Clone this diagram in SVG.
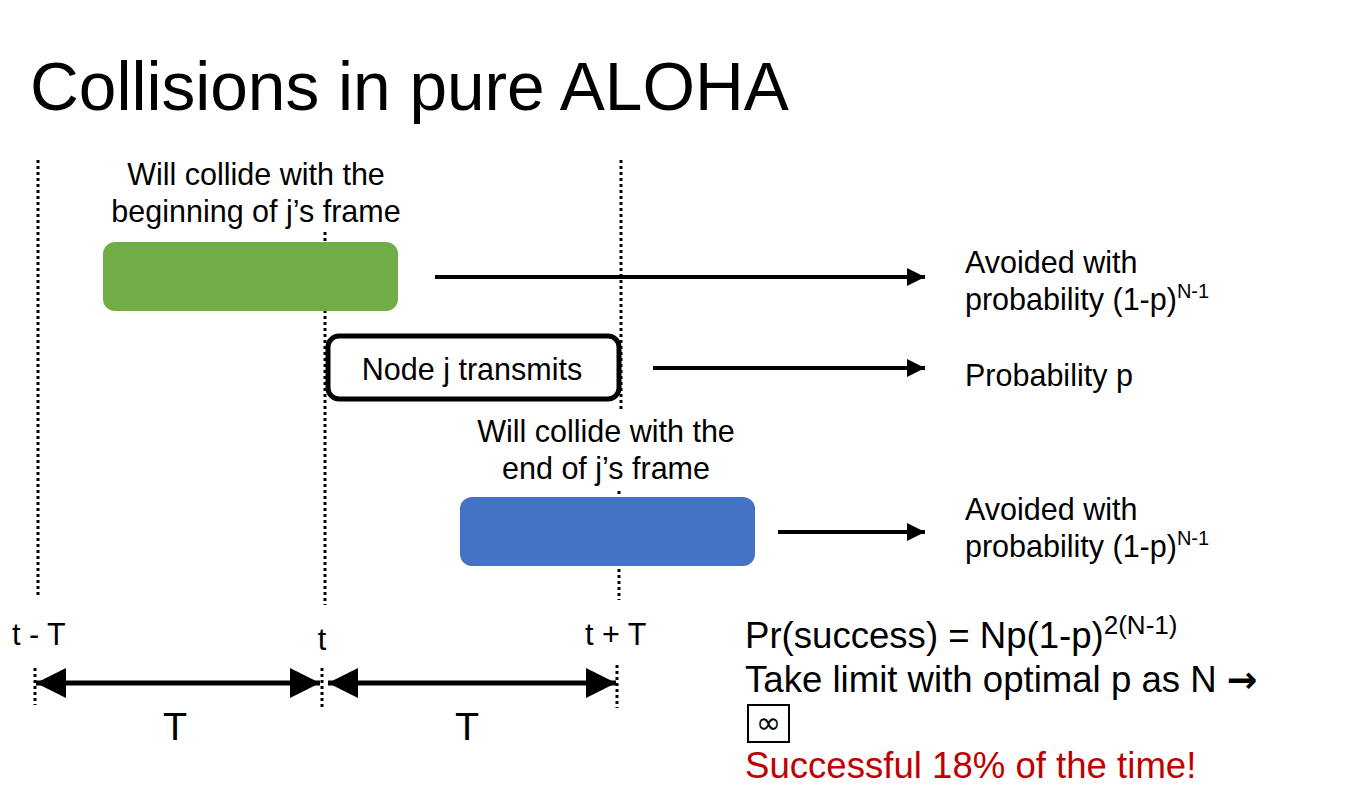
<svg xmlns="http://www.w3.org/2000/svg" width="1356" height="793" viewBox="0 0 1356 793">
  <style>
    text { font-family: "Liberation Sans", Arial, sans-serif; fill: #000; }
    .lbl { font-size: 30.5px; }
    .big { font-size: 39.5px; }
    .res { font-size: 36.6px; }
    .sup { font-size: 20px; }
    .sup2 { font-size: 26px; }
    .sym { font-family: "DejaVu Sans", sans-serif; }
    .dot { stroke: #000; stroke-width: 3; stroke-dasharray: 3 3; fill: none; }
    .arr { stroke: #000; stroke-width: 4; fill: none; }
    .dim { stroke: #000; stroke-width: 5; fill: none; }
  </style>
  <defs>
    <marker id="head" viewBox="0 0 10 10" refX="10" refY="5" markerUnits="userSpaceOnUse" markerWidth="20" markerHeight="18" orient="auto">
      <path d="M0,0 L10,5 L0,10 Z" fill="#000"/>
    </marker>
    <marker id="bighead" viewBox="0 0 10 10" refX="10" refY="5" markerUnits="userSpaceOnUse" markerWidth="30" markerHeight="34" orient="auto-start-reverse">
      <path d="M0,0 L10,5 L0,10 Z" fill="#000"/>
    </marker>
  </defs>

  <rect width="1356" height="793" fill="#fff"/>

  <text x="30" y="110" font-size="67.6">Collisions in pure ALOHA</text>

  <!-- time markers -->
  <g id="markers">
    <line class="dot" x1="38" y1="160" x2="38" y2="598"/>
    <line class="dot" x1="325" y1="232" x2="325" y2="605"/>
    <line class="dot" x1="621" y1="160" x2="621" y2="410"/>
    <line class="dot" x1="619" y1="491" x2="619" y2="600"/>
    <line class="dot" x1="35" y1="668" x2="35" y2="705"/>
    <line class="dot" x1="322" y1="668" x2="322" y2="708"/>
    <line class="dot" x1="617" y1="665" x2="617" y2="708"/>
  </g>

  <g id="early-frame">
    <text class="lbl" x="256" y="185" text-anchor="middle">Will collide with the</text>
    <text class="lbl" x="256" y="222" text-anchor="middle">beginning of j’s frame</text>
    <rect x="103" y="242" width="295" height="69" rx="12" fill="#70AD47"/>
  </g>

  <g id="node-j">
    <rect x="328" y="336" width="291" height="63" rx="11" fill="#fff" stroke="#000" stroke-width="5"/>
    <text class="lbl" x="472" y="380" text-anchor="middle">Node j transmits</text>
  </g>

  <g id="late-frame">
    <text class="lbl" x="606" y="442" text-anchor="middle">Will collide with the</text>
    <text class="lbl" x="606" y="479" text-anchor="middle">end of j’s frame</text>
    <rect x="460" y="497" width="295" height="69" rx="12" fill="#4472C4"/>
  </g>

  <g id="connectors">
    <line class="arr" x1="435" y1="277" x2="925" y2="277" marker-end="url(#head)"/>
    <line class="arr" x1="653" y1="368" x2="925" y2="368" marker-end="url(#head)"/>
    <line class="arr" x1="778" y1="532" x2="925" y2="532" marker-end="url(#head)"/>
    <line class="dim" x1="36" y1="683" x2="320" y2="683" marker-start="url(#bighead)" marker-end="url(#bighead)"/>
    <line class="dim" x1="328" y1="683" x2="616" y2="683" marker-start="url(#bighead)" marker-end="url(#bighead)"/>
  </g>

  <g id="outcome-early">
    <text class="lbl" x="965" y="273">Avoided with</text>
    <text class="lbl" x="965" y="310">probability (1-p)<tspan class="sup" dy="-12">N-1</tspan></text>
  </g>
  <g id="outcome-j">
    <text class="lbl" x="965" y="386">Probability p</text>
  </g>
  <g id="outcome-late">
    <text class="lbl" x="965" y="520">Avoided with</text>
    <text class="lbl" x="965" y="557">probability (1-p)<tspan class="sup" dy="-12">N-1</tspan></text>
  </g>

  <g id="axis-labels">
    <text class="lbl" x="12" y="645">t - T</text>
    <text class="lbl" x="322" y="650" text-anchor="middle">t</text>
    <text class="lbl" x="585" y="645">t + T</text>
    <text class="big" x="175" y="740" text-anchor="middle">T</text>
    <text class="big" x="467" y="740" text-anchor="middle">T</text>
  </g>

  <g id="result">
    <text class="res" x="745" y="648">Pr(success) = Np(1-p)<tspan class="sup2" dy="-14">2(N-1)</tspan></text>
    <text class="res" x="745" y="692">Take limit with optimal p as N <tspan class="sym" font-weight="bold">→</tspan></text>
    <rect x="748" y="705" width="41" height="37" fill="none" stroke="#000" stroke-width="2"/>
    <text class="sym" x="768.5" y="733" font-size="30" text-anchor="middle">∞</text>
    <text class="res" x="745" y="778" style="fill:#C00000">Successful 18% of the time!</text>
  </g>
</svg>
